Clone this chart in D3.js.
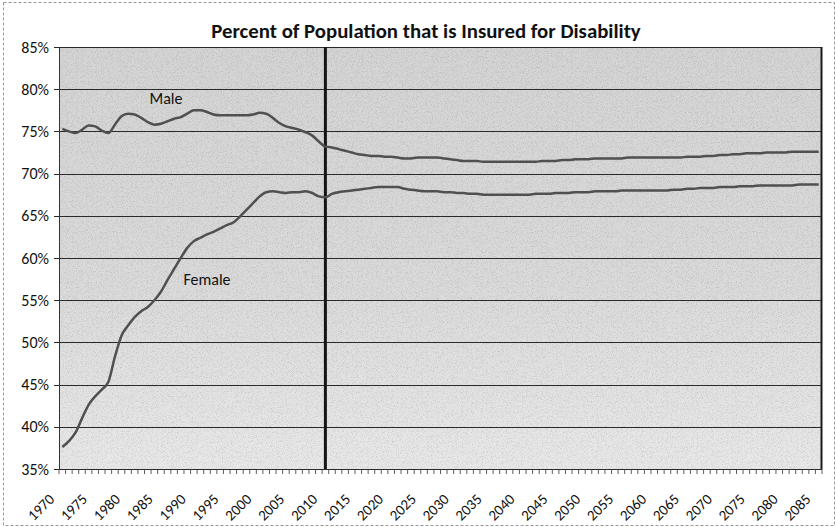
<!DOCTYPE html>
<html>
<head>
<meta charset="utf-8">
<script src="https://cdn.jsdelivr.net/npm/d3@7"></script>
<style>
    body { margin: 0; background: #fff; }
    svg text { font-family: Carlito, Lato, 'Noto Sans', sans-serif; fill: #111; }
</style>
</head>
<body>
<svg id="chart"></svg>
<script>
// years on the category axis
let years = d3.range(1970, 2086);
let labelYears = d3.range(1970, 2086, 5);
let yTicks = [35, 40, 45, 50, 55, 60, 65, 70, 75, 80, 85];
let currentYear = 2010;

// percent insured, one value per year 1970..2085
let male = [
    75.3, 75.0, 74.8, 75.2, 75.7, 75.6, 75.1, 74.8, 75.8, 76.8,
    77.1, 77.0, 76.6, 76.1, 75.8, 75.9, 76.2, 76.5, 76.7, 77.1,
    77.5, 77.5, 77.3, 77.0, 76.9, 76.9, 76.9, 76.9, 76.9, 77.0,
    77.2, 77.1, 76.6, 76.0, 75.6, 75.4, 75.2, 74.9, 74.5, 73.8,
    73.2, 73.1, 72.9, 72.7, 72.5, 72.3, 72.2, 72.1, 72.1, 72.0,
    72.0, 71.9, 71.8, 71.8, 71.9, 71.9, 71.9, 71.9, 71.8, 71.7,
    71.6, 71.5, 71.5, 71.5, 71.4, 71.4, 71.4, 71.4, 71.4, 71.4,
    71.4, 71.4, 71.4, 71.5, 71.5, 71.5, 71.6, 71.6, 71.7, 71.7,
    71.7, 71.8, 71.8, 71.8, 71.8, 71.8, 71.9, 71.9, 71.9, 71.9,
    71.9, 71.9, 71.9, 71.9, 71.9, 72.0, 72.0, 72.0, 72.1, 72.1,
    72.2, 72.2, 72.3, 72.3, 72.4, 72.4, 72.4, 72.5, 72.5, 72.5,
    72.5, 72.6, 72.6, 72.6, 72.6, 72.6
];
let female = [
    37.6, 38.3, 39.3, 41.0, 42.6, 43.6, 44.4, 45.3, 48.3, 50.8,
    52.0, 53.0, 53.7, 54.2, 55.0, 56.0, 57.4, 58.7, 60.0, 61.2,
    62.0, 62.4, 62.8, 63.1, 63.5, 63.9, 64.2, 64.9, 65.7, 66.5,
    67.3, 67.8, 67.9, 67.8, 67.7, 67.8, 67.8, 67.9, 67.7, 67.3,
    67.2, 67.6, 67.8, 67.9, 68.0, 68.1, 68.2, 68.3, 68.4, 68.4,
    68.4, 68.4, 68.2, 68.1, 68.0, 67.9, 67.9, 67.9, 67.8, 67.8,
    67.7, 67.7, 67.6, 67.6, 67.5, 67.5, 67.5, 67.5, 67.5, 67.5,
    67.5, 67.5, 67.6, 67.6, 67.6, 67.7, 67.7, 67.7, 67.8, 67.8,
    67.8, 67.9, 67.9, 67.9, 67.9, 68.0, 68.0, 68.0, 68.0, 68.0,
    68.0, 68.0, 68.0, 68.1, 68.1, 68.2, 68.2, 68.3, 68.3, 68.3,
    68.4, 68.4, 68.4, 68.5, 68.5, 68.5, 68.6, 68.6, 68.6, 68.6,
    68.6, 68.6, 68.7, 68.7, 68.7, 68.7
];

let width = 836;
let height = 527;
let margin = {top: 47, bot: 58, left: 59, right: 14};
let config = {
    width: width - margin.left - margin.right,
    height: height - margin.top - margin.bot,
    margin: margin
};

let svg = d3.select('#chart')
    .attr('width', width)
    .attr('height', height);

// scanned-paper look for the plot area
let defs = svg.append('defs');
let grad = defs.append('linearGradient')
    .attr('id', 'plotFill')
    .attr('x1', 0).attr('y1', 0).attr('x2', 0).attr('y2', 1);
grad.append('stop').attr('offset', '0%').attr('stop-color', '#d4d4d4');
grad.append('stop').attr('offset', '55%').attr('stop-color', '#dadada');
grad.append('stop').attr('offset', '100%').attr('stop-color', '#e8e8e8');
let noise = defs.append('filter').attr('id', 'grain');
noise.append('feTurbulence')
    .attr('type', 'fractalNoise')
    .attr('baseFrequency', 1.2)
    .attr('numOctaves', 1)
    .attr('seed', 3)
    .attr('result', 'n');
noise.append('feColorMatrix')
    .attr('in', 'n')
    .attr('type', 'matrix')
    .attr('values', '0 0 0 0 0  0 0 0 0 0  0 0 0 0 0  0 0 0 -3 1.55')
    .attr('result', 'dots');
noise.append('feComposite')
    .attr('in', 'dots')
    .attr('in2', 'SourceGraphic')
    .attr('operator', 'in');

// outer chart border (dashed, as on the scan)
svg.append('rect')
    .attr('x', 3.5).attr('y', 2.5)
    .attr('width', width - 5).attr('height', height - 4)
    .attr('fill', 'none')
    .attr('stroke', '#999')
    .attr('stroke-width', 1)
    .attr('stroke-dasharray', '3,2');

let xScale = d3.scaleBand()
    .domain(years)
    .range([margin.left, margin.left + config.width])
    .padding(0);
let yScale = d3.scaleLinear()
    .domain([35, 85])
    .range([margin.top + config.height, margin.top]);

let plot = svg.append('g');
plot.append('rect')
    .attr('x', margin.left)
    .attr('y', margin.top)
    .attr('width', config.width)
    .attr('height', config.height)
    .attr('fill', 'url(#plotFill)');
plot.append('rect')
    .attr('x', margin.left)
    .attr('y', margin.top)
    .attr('width', config.width)
    .attr('height', config.height)
    .attr('fill', '#555')
    .attr('opacity', 0.12)
    .attr('filter', 'url(#grain)');

// gridlines
plot.selectAll('.grid')
    .data(yTicks)
    .enter()
    .append('line')
    .attr('class', 'grid')
    .attr('x1', margin.left - 5)
    .attr('x2', margin.left + config.width)
    .attr('y1', d => Math.round(yScale(d)) + 0.5)
    .attr('y2', d => Math.round(yScale(d)) + 0.5)
    .attr('stroke', '#2a2a2a')
    .attr('stroke-width', 1.2);

// y labels
let yAx = d3.axisLeft(yScale)
    .tickValues(yTicks)
    .tickSize(0)
    .tickPadding(10)
    .tickFormat(d => d + '%');
svg.append('g')
    .attr('transform', `translate(${margin.left},0)`)
    .call(yAx)
    .call(g => g.select('.domain').remove())
    .selectAll('text')
    .style('font-size', '16px');

// axis frame
plot.append('line')
    .attr('x1', margin.left + 0.5).attr('x2', margin.left + 0.5)
    .attr('y1', margin.top).attr('y2', margin.top + config.height)
    .attr('stroke', '#333').attr('stroke-width', 1);
plot.append('line')
    .attr('x1', margin.left + config.width - 0.5).attr('x2', margin.left + config.width - 0.5)
    .attr('y1', margin.top).attr('y2', margin.top + config.height)
    .attr('stroke', '#1a1a1a').attr('stroke-width', 2);

// x ticks at each category boundary
plot.selectAll('.xtick')
    .data(years.concat([years[years.length - 1] + 1]))
    .enter()
    .append('line')
    .attr('class', 'xtick')
    .attr('x1', d => d > years[years.length - 1] ? margin.left + config.width : xScale(d))
    .attr('x2', d => d > years[years.length - 1] ? margin.left + config.width : xScale(d))
    .attr('y1', margin.top + config.height)
    .attr('y2', margin.top + config.height + 5)
    .attr('stroke', '#333')
    .attr('stroke-width', 0.8);

// x labels, rotated
let xAx = d3.axisBottom(xScale)
    .tickValues(labelYears)
    .tickSize(0)
    .tickPadding(0);
svg.append('g')
    .attr('transform', `translate(0,${margin.top + config.height})`)
    .call(xAx)
    .call(g => g.select('.domain').remove())
    .selectAll('text')
    .style('font-size', '15px')
    .attr('text-anchor', 'end')
    .attr('dy', 0)
    .attr('transform', 'translate(-7,31) rotate(-45)');

// current year marker
plot.append('line')
    .attr('x1', xScale(currentYear) + xScale.bandwidth() / 2)
    .attr('x2', xScale(currentYear) + xScale.bandwidth() / 2)
    .attr('y1', margin.top)
    .attr('y2', margin.top + config.height)
    .attr('stroke', '#151515')
    .attr('stroke-width', 3);

// series lines
let line = d3.line()
    .x((d, i) => xScale(years[i]) + xScale.bandwidth() / 2)
    .y(d => yScale(d))
    .curve(d3.curveMonotoneX);
[male, female].forEach(s => {
    plot.append('path')
        .datum(s)
        .attr('d', line)
        .attr('fill', 'none')
        .attr('stroke', '#505050')
        .attr('stroke-width', 2.5);
});

// series labels
svg.append('text')
    .attr('x', 166).attr('y', 104)
    .attr('text-anchor', 'middle')
    .style('font-size', '16px')
    .text('Male');
svg.append('text')
    .attr('x', 207).attr('y', 285)
    .attr('text-anchor', 'middle')
    .style('font-size', '16px')
    .text('Female');

// title
svg.append('text')
    .attr('x', 426).attr('y', 38)
    .attr('text-anchor', 'middle')
    .style('font-size', '20.8px')
    .style('font-weight', 'bold')
    .text('Percent of Population that is Insured for Disability');
</script>
</body>
</html>
